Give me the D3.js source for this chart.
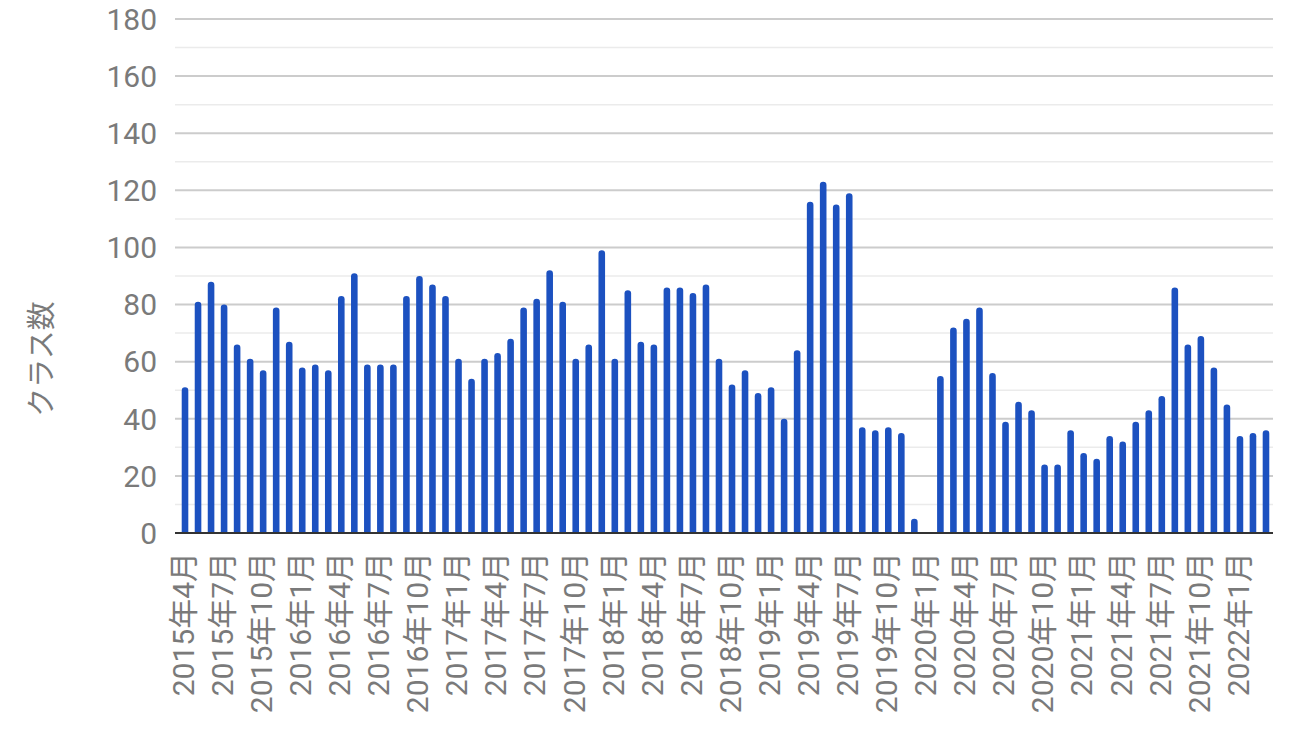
<!DOCTYPE html>
<html><head><meta charset="utf-8">
<script src="https://cdn.jsdelivr.net/npm/d3@7/dist/d3.min.js"></script>
<style>body{margin:0;background:#fff;}svg{display:block;}</style>
</head><body>
<svg id="c" width="1299" height="735"></svg>
<script>
const months = [];
for (let y = 2015, m = 4; months.length < 84; ) {
  months.push(y + "年" + m + "月");
  m++; if (m > 12) { m = 1; y++; }
}
const values = [
  51, 81, 88, 80, 66, 61, 57, 79, 67, 58, 59, 57,
  83, 91, 59, 59, 59, 83, 90, 87, 83, 61, 54, 61,
  63, 68, 79, 82, 92, 81, 61, 66, 99, 61, 85, 67,
  66, 86, 86, 84, 87, 61, 52, 57, 49, 51, 40, 64,
  116, 123, 115, 119, 37, 36, 37, 35, 5, 0, 55, 72,
  75, 79, 56, 39, 46, 43, 24, 24, 36, 28, 26, 34,
  32, 39, 43, 48, 86, 66, 69, 58, 45, 34, 35, 36
];
const yTicks = [0, 20, 40, 60, 80, 100, 120, 140, 160, 180];
const minorTicks = [10, 30, 50, 70, 90, 110, 130, 150, 170];
const labelMonths = months.filter((d, i) => i % 3 === 0);
const yTitle = "クラス数";

const svg = d3.select("#c");
const x = d3.scaleBand().domain(months).range([178.5, 1272.5]).padding(0);
const y = d3.scaleLinear().domain([0, 180]).range([533, 19]);
const gx0 = 175, gx1 = 1273;

svg.append("g").selectAll("line").data(minorTicks).join("line")
  .attr("x1", gx0).attr("x2", gx1).attr("y1", d => y(d)).attr("y2", d => y(d))
  .attr("stroke", "#ebebeb").attr("stroke-width", 1.5);
svg.append("g").selectAll("line").data(yTicks.filter(d => d > 0)).join("line")
  .attr("x1", gx0).attr("x2", gx1).attr("y1", d => y(d)).attr("y2", d => y(d))
  .attr("stroke", "#cccccc").attr("stroke-width", 2);

svg.append("g").selectAll("text").data(yTicks).join("text")
  .attr("x", 157).attr("y", d => y(d)).attr("dy", "0.36em")
  .attr("text-anchor", "end").attr("fill", "#7a7a7a")
  .style("font", "30px Roboto")
  .text(d => d);

const bw = 6.6, r = 3.3;
svg.append("g").selectAll("path").data(values.map((v, i) => ({v, m: months[i]})).filter(d => d.v > 0)).join("path")
  .attr("fill", "#1c51c0")
  .attr("d", d => {
    const cx = x(d.m) + x.bandwidth() / 2;
    const x0 = cx - bw / 2, x1 = cx + bw / 2, yt = y(d.v), yb = y(0);
    const p = d3.path();
    p.moveTo(x0, yb);
    p.lineTo(x0, yt + r);
    p.arc(cx, yt + r, r, Math.PI, 0);
    p.lineTo(x1, yb);
    p.closePath();
    return p.toString();
  });

svg.append("line").attr("x1", gx0).attr("x2", gx1).attr("y1", y(0)).attr("y2", y(0))
  .attr("stroke", "#333").attr("stroke-width", 2);

svg.append("g").selectAll("text").data(labelMonths).join("text")
  .attr("transform", d => `translate(${x(d) + x.bandwidth() / 2 - 2},552) rotate(-90)`)
  .attr("dy", "0.36em").attr("text-anchor", "end").attr("fill", "#7a7a7a")
  .style("font", "30px Roboto, 'Noto Sans CJK JP'")
  .text(d => d);

svg.append("text")
  .attr("transform", "translate(42,359) rotate(-90)")
  .attr("dy", "0.36em").attr("text-anchor", "middle").attr("fill", "#7a7a7a")
  .style("font", "29px 'Noto Sans CJK JP'")
  .text(yTitle);
</script>
</body></html>
